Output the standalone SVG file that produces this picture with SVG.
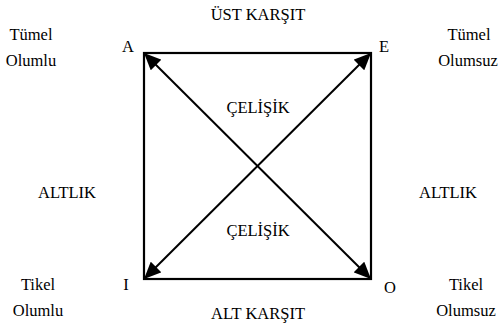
<svg xmlns="http://www.w3.org/2000/svg" width="498" height="327" viewBox="0 0 498 327">
<style>
text{font-family:'Liberation Serif','Times New Roman',Times,serif;font-size:16.5px;fill:#000;text-anchor:middle}
.sq{fill:none;stroke:#000;stroke-width:2.2}
.dg{stroke:#000;stroke-width:2;marker-start:url(#ah);marker-end:url(#ah)}
</style>
<defs>
<marker id="ah" markerUnits="userSpaceOnUse" viewBox="0 0 17 15" refX="17" refY="7.5" markerWidth="17" markerHeight="15" orient="auto-start-reverse">
<path d="M0,0 L17,7.5 L0,15 z" fill="#000"/>
</marker>
</defs>
<rect x="0" y="0" width="498" height="327" fill="#fff"/>
<g id="square"><rect class="sq" x="144" y="53" width="227" height="226"/></g>
<g id="connectors">
<line class="dg" x1="144" y1="53" x2="371" y2="279"/>
<line class="dg" x1="144" y1="279" x2="371" y2="53"/>
</g>
<g id="top"><text x="258" y="20">ÜST KARŞIT</text></g>
<g id="bottom"><text x="258" y="319">ALT KARŞIT</text></g>
<g id="nodeA"><text x="128" y="52">A</text><text x="31" y="40">Tümel</text><text x="31" y="66">Olumlu</text></g>
<g id="nodeE"><text x="384" y="52">E</text><text x="469" y="40">Tümel</text><text x="468" y="66">Olumsuz</text></g>
<g id="nodeI"><text x="126" y="290">I</text><text x="38" y="290">Tikel</text><text x="38" y="316">Olumlu</text></g>
<g id="nodeO"><text x="390" y="293">O</text><text x="466" y="290">Tikel</text><text x="466" y="316">Olumsuz</text></g>
<g id="sides"><text x="67" y="198">ALTLIK</text><text x="448" y="198">ALTLIK</text></g>
<g id="contra"><text x="258" y="113">ÇELİŞİK</text><text x="258" y="236">ÇELİŞİK</text></g>
</svg>
